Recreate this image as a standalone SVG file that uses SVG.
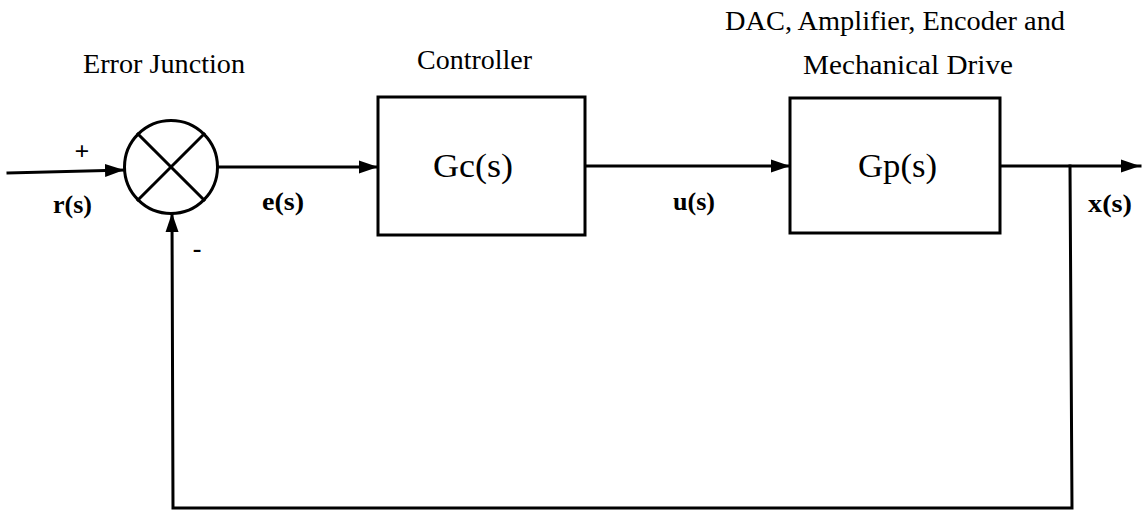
<svg xmlns="http://www.w3.org/2000/svg" width="1142" height="511" viewBox="0 0 1142 511">
<style>
.ln{fill:none;stroke:#000;stroke-width:3;stroke-linecap:square}
.bx{fill:#fff;stroke:#000;stroke-width:3}
.lbl{font-family:"Liberation Serif","Times New Roman",serif;font-size:28px;fill:#000;text-anchor:middle}
.tf{font-family:"Liberation Serif","Times New Roman",serif;font-size:34px;fill:#000;text-anchor:middle}
.sig{font-family:"Liberation Serif","Times New Roman",serif;font-size:26px;font-weight:bold;fill:#000;text-anchor:middle}
</style>
<defs>
<marker id="arr" markerUnits="userSpaceOnUse" markerWidth="20" markerHeight="14" refX="19" refY="7" orient="auto">
<path d="M0,0.5 L19,7 L0,13.5 Z" fill="#000"/>
</marker>
</defs>
<rect width="1142" height="511" fill="#fff"/>
<g id="connectors">
<path class="ln" d="M8,173 L124,170" marker-end="url(#arr)"/>
<path class="ln" d="M218,167 L378,167" marker-end="url(#arr)"/>
<path class="ln" d="M585,166 L790,166" marker-end="url(#arr)"/>
<path class="ln" d="M1000,166 L1140,166" marker-end="url(#arr)"/>
<path class="ln" d="M1070,166 L1072,508 L173,508 L172,213" marker-end="url(#arr)"/>
</g>
<g id="error-junction">
<circle class="bx" cx="171" cy="167" r="46.5"/>
<line class="ln" x1="138" y1="134" x2="204" y2="200"/>
<line class="ln" x1="204" y1="134" x2="138" y2="200"/>
<text class="lbl" x="164" y="73" textLength="162" lengthAdjust="spacingAndGlyphs">Error Junction</text>
<text class="sig" x="82" y="160">+</text>
<text class="sig" x="197" y="257">-</text>
</g>
<g id="controller">
<rect class="bx" x="378" y="97" width="207" height="138"/>
<text class="lbl" x="474.5" y="69" textLength="115" lengthAdjust="spacingAndGlyphs">Controller</text>
<text class="tf" x="473" y="177" textLength="80" lengthAdjust="spacingAndGlyphs">Gc(s)</text>
</g>
<g id="plant">
<rect class="bx" x="790" y="98" width="210" height="135"/>
<text class="lbl" x="895" y="30" textLength="340" lengthAdjust="spacingAndGlyphs">DAC, Amplifier, Encoder and</text>
<text class="lbl" x="908" y="74" textLength="210" lengthAdjust="spacingAndGlyphs">Mechanical Drive</text>
<text class="tf" x="897.5" y="177" textLength="79" lengthAdjust="spacingAndGlyphs">Gp(s)</text>
</g>
<g id="signals">
<text class="sig" x="72.5" y="213" textLength="39" lengthAdjust="spacingAndGlyphs">r(s)</text>
<text class="sig" x="283" y="210" textLength="42" lengthAdjust="spacingAndGlyphs">e(s)</text>
<text class="sig" x="694" y="210" textLength="42" lengthAdjust="spacingAndGlyphs">u(s)</text>
<text class="sig" x="1110" y="212" textLength="44" lengthAdjust="spacingAndGlyphs">x(s)</text>
</g>
</svg>
